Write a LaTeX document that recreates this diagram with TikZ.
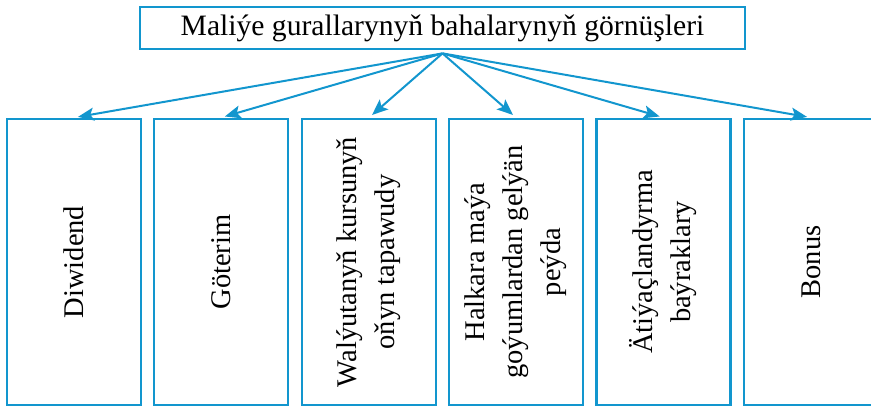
\documentclass[tikz,border=0pt]{standalone}
\usepackage{fontspec}
\setmainfont{Liberation Serif}
\usetikzlibrary{arrows.meta}
\definecolor{tmblue}{RGB}{18,150,206}
\begin{document}
\begin{tikzpicture}[x=1pt,y=1pt,
  topbox/.style={draw=tmblue,line width=2.8pt,minimum width=605pt,minimum height=42pt,inner sep=0pt,
    font=\fontsize{29.6}{34}\selectfont},
  itembox/.style={draw=tmblue,line width=2.8pt,minimum width=134pt,minimum height=286pt,inner sep=0pt},
  itemtext/.style={rotate=90,align=center,inner sep=0pt,font=\fontsize{28.5}{38}\selectfont},
  conn/.style={draw=tmblue,line width=2pt,-{Stealth[length=16pt,width=13pt,inset=3.5pt]},shorten >=4pt}]
\useasboundingbox (0,0) rectangle (871,406);
\clip (0,0) rectangle (871,406);
\node[topbox] (top) at (442.5,378) {Maliýe gurallarynyň bahalarynyň görnüşleri};
\coordinate (src) at ([yshift=-3pt]top.south);
\node[itembox] (b1) at (74,144) {};
\node[itembox] (b2) at (221,144) {};
\node[itembox] (b3) at (369,144) {};
\node[itembox] (b4) at (516,144) {};
\node[itembox] (b5) at (663.5,144) {};
\node[itembox] (b6) at (811,144) {};
\node[itemtext] (t1) at (b1.center) {Diwidend};
\node[itemtext] (t2) at (b2.center) {Göterim};
\node[itemtext] (t3) at (b3.center) {Walýutanyň kursunyň\\oňyn tapawudy};
\node[itemtext] (t4) at (b4.center) {Halkara maýa\\goýumlardan gelýän\\peýda};
\node[itemtext] (t5) at (b5.center) {Ätiýaçlandyrma\\baýraklary};
\node[itemtext] (t6) at (b6.center) {Bonus};
\foreach \b in {b1,b2,b3,b4,b5,b6}{
  \draw[conn] (src) -- (\b.north);
}
\end{tikzpicture}
\end{document}
